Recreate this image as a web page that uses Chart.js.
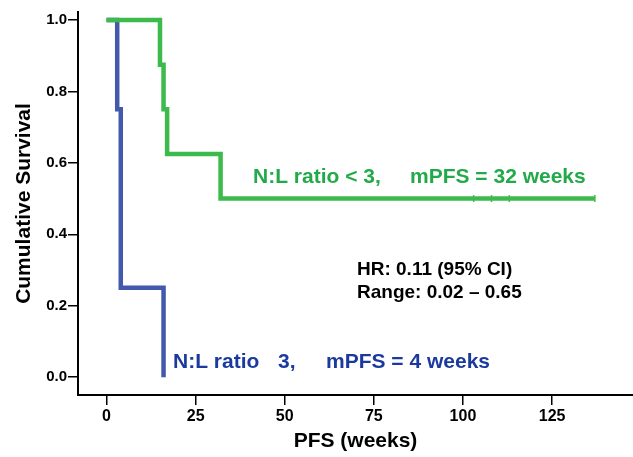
<!DOCTYPE html>
<html>
<head>
<meta charset="utf-8">
<script src="https://cdn.jsdelivr.net/npm/chart.js@4"></script>
<style>
  html, body { margin: 0; padding: 0; background: #fff; }
</style>
</head>
<body>
<canvas id="kmChart" width="633" height="457"></canvas>
<script>
    // Kaplan-Meier steps
    const highTimes = [0, 15, 16, 17, 32, 137];          // N:L ratio < 3
    const highSurv = [1.0, 0.875, 0.75, 0.625, 0.5, 0.5];
    const highCensored = [103, 108, 113, 137];
    const highCensoredSurv = [0.5, 0.5, 0.5, 0.5];
    const lowTimes = [0, 3, 4, 16];                       // N:L ratio >= 3
    const lowSurv = [1.0, 0.75, 0.25, 0.0];
    const xTicks = [0, 25, 50, 75, 100, 125];
    const yTicks = [0.0, 0.2, 0.4, 0.6, 0.8, 1.0];

    const FONT = 'Liberation Sans, Arial, sans-serif';
    const greenLine = '#3dba4c';
    const blueLine = '#4259ac';

    const toPoints = (xs, ys) => xs.map((x, i) => ({ x: x, y: ys[i] }));

    // Censor ticks + text notes inside the plot
    const notesPlugin = {
        id: 'notes',
        afterDatasetsDraw(chart) {
            const ctx = chart.ctx;
            const xs = chart.scales.x, ys = chart.scales.y;
            ctx.save();

            ctx.strokeStyle = greenLine;
            ctx.lineWidth = 1.5;
            highCensored.forEach((t, i) => {
                const px = xs.getPixelForValue(t);
                const py = ys.getPixelForValue(highCensoredSurv[i]);
                ctx.beginPath();
                ctx.moveTo(px, py - 3.5);
                ctx.lineTo(px, py + 3.5);
                ctx.stroke();
            });

            ctx.textBaseline = 'middle';
            ctx.textAlign = 'left';

            ctx.font = 'bold 21px ' + FONT;
            ctx.fillStyle = '#22aa4a';
            ctx.fillText('N:L ratio < 3,', 253, 177);
            ctx.fillText('mPFS = 32 weeks', 410, 177);

            ctx.fillStyle = '#1b3a9e';
            ctx.fillText('N:L ratio', 173, 362);
            ctx.fillText('3,', 278, 362);
            ctx.fillText('mPFS = 4 weeks', 326, 362);

            ctx.font = 'bold 19px ' + FONT;
            ctx.fillStyle = '#000';
            ctx.fillText('HR: 0.11 (95% CI)', 357, 270);
            ctx.fillText('Range: 0.02 \u2013 0.65', 357, 293);
            ctx.restore();
        }
    };

    const axisGrid = {
        display: true,
        drawOnChartArea: false,
        drawTicks: true,
        tickLength: 10,
        color: '#000',
        lineWidth: 1.5
    };

    new Chart(document.getElementById('kmChart').getContext('2d'), {
        type: 'line',
        data: {
            datasets: [
                {
                    label: 'N:L ratio < 3',
                    data: toPoints(highTimes, highSurv),
                    borderColor: greenLine,
                    borderWidth: 4.5,
                    stepped: 'before',
                    pointRadius: 0,
                    fill: false
                },
                {
                    label: 'N:L ratio >= 3',
                    data: toPoints(lowTimes, lowSurv),
                    borderColor: blueLine,
                    borderWidth: 4.5,
                    stepped: 'before',
                    pointRadius: 0,
                    fill: false
                }
            ]
        },
        options: {
            responsive: false,
            animation: false,
            layout: { padding: { top: 12, right: 0, left: 0, bottom: 0 } },
            plugins: {
                legend: { display: false },
                tooltip: { enabled: false }
            },
            scales: {
                x: {
                    type: 'linear',
                    min: -8,
                    max: 147.7,
                    afterBuildTicks: s => { s.ticks = xTicks.map(v => ({ value: v })); },
                    afterFit: s => { s.height = 62; },
                    border: { display: true, color: '#000', width: 2 },
                    grid: axisGrid,
                    ticks: {
                        color: '#000',
                        padding: 2,
                        maxRotation: 0,
                        autoSkip: false,
                        font: { family: FONT, size: 16, weight: 'bold' }
                    },
                    title: {
                        display: true,
                        text: 'PFS (weeks)',
                        color: '#000',
                        padding: { top: 0, bottom: 3 },
                        font: { family: FONT, size: 21, weight: 'bold' }
                    }
                },
                y: {
                    min: -0.05,
                    max: 1.0224,
                    afterBuildTicks: s => { s.ticks = yTicks.map(v => ({ value: v })); },
                    afterFit: s => { s.width = 78; },
                    border: { display: true, color: '#000', width: 2 },
                    grid: axisGrid,
                    ticks: {
                        color: '#000',
                        padding: 1,
                        callback: v => v.toFixed(1),
                        font: { family: FONT, size: 15, weight: 'bold' }
                    },
                    title: {
                        display: true,
                        text: 'Cumulative Survival',
                        color: '#000',
                        padding: { top: 12, bottom: 0 },
                        font: { family: FONT, size: 21, weight: 'bold' }
                    }
                }
            }
        },
        plugins: [notesPlugin]
    });
</script>
</body>
</html>
